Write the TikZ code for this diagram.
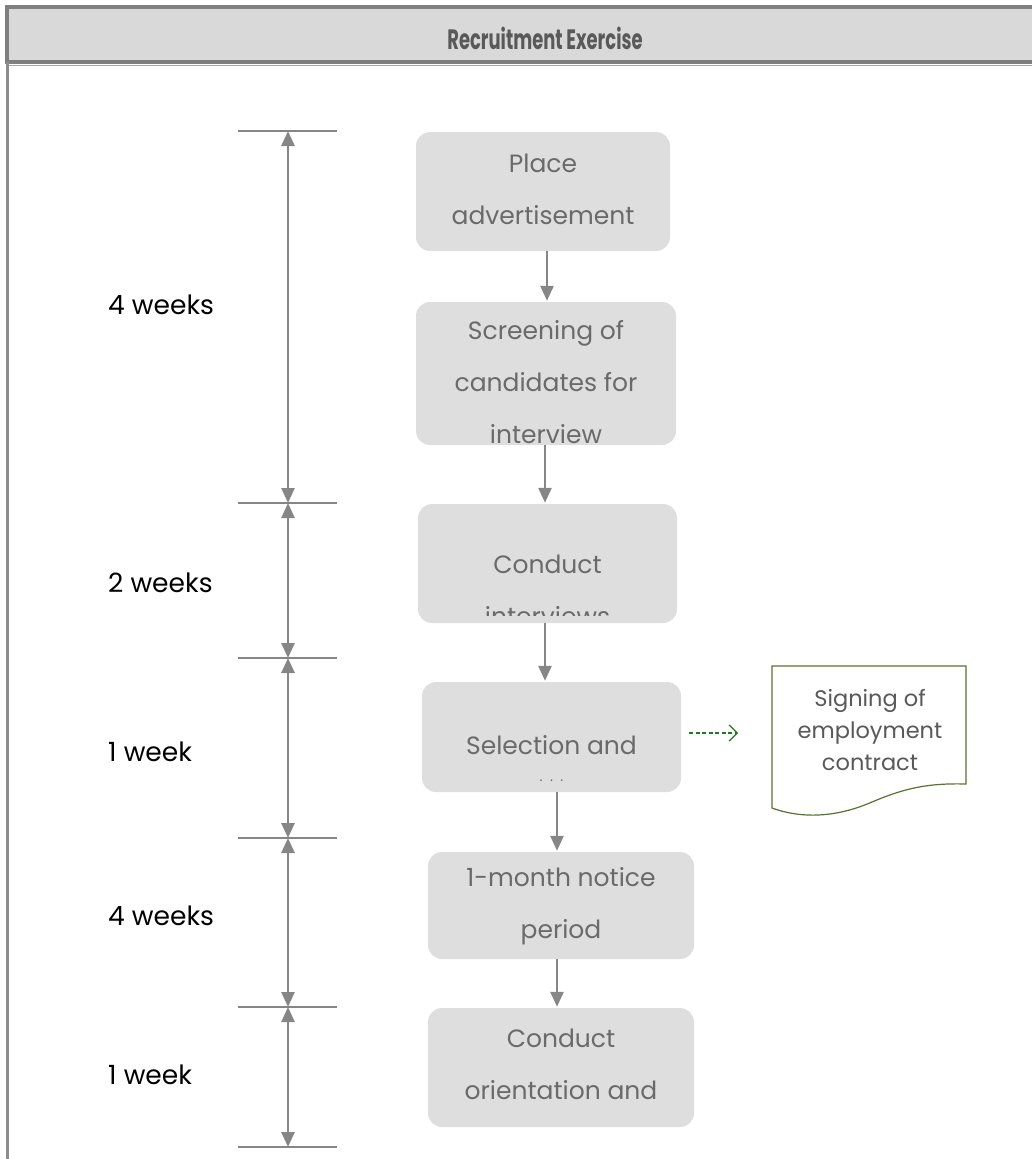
\documentclass[tikz,border=0pt]{standalone}
\usepackage{fontspec}
\usepackage{graphicx}
\setmainfont{Poppins}
\usetikzlibrary{arrows.meta,calc}
\definecolor{framegrey}{HTML}{7F7F7F}
\definecolor{headfill}{HTML}{D9D9D9}
\definecolor{boxfill}{HTML}{DEDEDE}
\definecolor{boxtext}{HTML}{6A6A6A}
\definecolor{headtext}{HTML}{595959}
\definecolor{linegrey}{HTML}{868686}
\definecolor{dashgreen}{HTML}{1E7A1E}
\definecolor{docgreen}{HTML}{5B7131}
\tikzset{
  stepbox/.style={draw=none, fill=boxfill, rounded corners=14pt, inner sep=0pt},
  boxlabel/.style={text=boxtext, align=center, font=\fontsize{25}{52}\selectfont, inner sep=0pt},
  flow/.style={draw=linegrey, line width=2.6pt, -{Triangle[length=15pt,width=13pt]}},
  span/.style={draw=linegrey, line width=2.6pt, {Triangle[length=15pt,width=13pt]}-{Triangle[length=15pt,width=13pt]}},
  tick/.style={draw=linegrey, line width=2.6pt},
  weeklabel/.style={anchor=west, text=black, font=\fontsize{26.5}{30}\selectfont, inner sep=0pt},
  dasharrow/.style={draw=dashgreen, line width=1.2pt, dashed, dash pattern=on 4pt off 2.5pt, -{Straight Barb[length=8pt,width=16pt,line width=1.2pt]}},
  docshape/.style={draw=docgreen, line width=1.2pt, fill=white},
}
\begin{document}
\begin{tikzpicture}[x=1pt,y=-1pt]
\useasboundingbox (0,0) rectangle (1032,1159);
\begin{scope}
\clip (0,0) rectangle (1032,1159);
% header
\fill[headfill] (7,7) rectangle (1040,62);
\draw[framegrey, line width=4.5pt] (7,7) -- (1040,7);
\draw[framegrey, line width=4.5pt] (7,62) -- (1040,62);
\draw[framegrey!70, line width=1.5pt] (9,65.5) -- (1040,65.5);
\draw[framegrey, line width=4.5pt] (7,4.75) -- (7,64);
\draw[framegrey!90, line width=3pt] (7.5,62) -- (7.5,1170);
\node[text=headtext, font=\fontsize{28}{30}\selectfont\bfseries] (title) at (545,38) {\scalebox{0.64}[1]{Recruitment Exercise}};

% process boxes
\node[stepbox, minimum width=254pt, minimum height=119pt] (b1) at (543,191.5) {};
\node[stepbox, minimum width=260pt, minimum height=143pt] (b2) at (546,373.5) {};
\node[stepbox, minimum width=259pt, minimum height=119pt] (b3) at (547.5,563.5) {};
\node[stepbox, minimum width=259pt, minimum height=110pt] (b4) at (551.5,737) {};
\node[stepbox, minimum width=266pt, minimum height=107pt] (b5) at (561,905.5) {};
\node[stepbox, minimum width=266pt, minimum height=119pt] (b6) at (561,1067.5) {};

\node[boxlabel] (t1) at (543,189) {Place\\advertisement};
\node[boxlabel] (t2) at (546,382) {Screening of\\candidates for\\interview};
\begin{scope}
\clip ($(b3.south west)+(0,-8)$) rectangle (b3.north east);
\node[boxlabel] (t3) at (547.5,590) {Conduct\\interviews};
\end{scope}
\node[boxlabel] (t4) at (551.5,745) {Selection and};
\node[text=boxtext, font=\fontsize{14}{16}\selectfont, inner sep=0pt] (t4b) at (551.5,781) {.\ \ .\ \ .};
\node[boxlabel] (t5) at (561,906) {1-month notice\\period};
\node[boxlabel] (t6) at (561,1064) {Conduct\\orientation and};

% flow arrows
\draw[flow] ($(b1.south)+(4,0)$) -- ($(b2.north)+(1,-1)$);
\draw[flow] ($(b2.south)+(-1,0)$) -- ($(b3.north)+(-2.5,-1)$);
\draw[flow] ($(b3.south)+(-2.5,0)$) -- ($(b4.north)+(-6.5,-1)$);
\draw[flow] ($(b4.south)+(5.5,0)$) -- ($(b5.north)+(-4,-1)$);
\draw[flow] ($(b5.south)+(-4,0)$) -- ($(b6.north)+(-4,-1)$);

% timeline
\coordinate (k0) at (288,131);
\coordinate (k1) at (288,503);
\coordinate (k2) at (288,658);
\coordinate (k3) at (288,838);
\coordinate (k4) at (288,1007);
\coordinate (k5) at (288,1147);
\foreach \k in {k0,k1,k2,k3,k4,k5}{
  \draw[tick] ($(\k)+(-50,0)$) -- ($(\k)+(49,0)$);
}
\draw[span] (k0) -- (k1);
\draw[span] (k1) -- (k2);
\draw[span] (k2) -- (k3);
\draw[span] (k3) -- (k4);
\draw[span] (k4) -- (k5);

\node[weeklabel] (w1) at (108,305) {4 weeks};
\node[weeklabel] (w2) at (108,583) {2 weeks};
\node[weeklabel] (w3) at (108,752) {1 week};
\node[weeklabel] (w4) at (108,916) {4 weeks};
\node[weeklabel] (w5) at (108,1075) {1 week};

% document shape
\draw[docshape] (772,666) -- (966,666) -- (966,784)
  .. controls (928,783) and (905,788) .. (872,802)
  .. controls (840,816) and (805,820) .. (772,808) -- cycle;
\node[text=headtext, align=center, font=\fontsize{22.5}{32}\selectfont, inner sep=0pt] (doc) at (870,730) {Signing of\\employment\\contract};
\coordinate (docL) at (772,733);
\draw[dasharrow, shorten <=8pt, shorten >=34pt] (b4.east |- docL) -- (docL);
\end{scope}
\end{tikzpicture}
\end{document}
